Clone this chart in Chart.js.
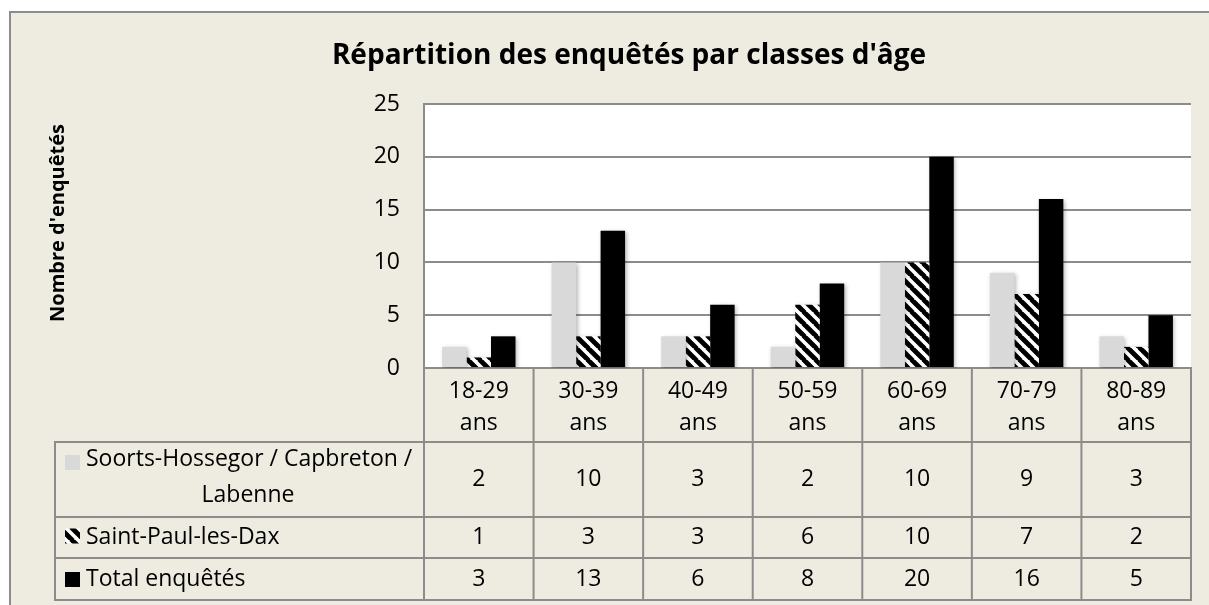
<!DOCTYPE html>
<html>
<head>
<meta charset="utf-8">
<script src="https://cdn.jsdelivr.net/npm/chart.js@4.4.1/dist/chart.umd.min.js"></script>
<style>
  html, body { margin: 0; padding: 0; background: #fff; }
  #wrap { width: 1209px; height: 605px; position: relative; }
</style>
</head>
<body>
<div id="wrap"><canvas id="ageChart"></canvas></div>
<script>
const chartTitle = "Répartition des enquêtés par classes d'âge";
const yAxisTitle = "Nombre d'enquêtés";

const ageClasses = [
  ['18-29', 'ans'], ['30-39', 'ans'], ['40-49', 'ans'], ['50-59', 'ans'],
  ['60-69', 'ans'], ['70-79', 'ans'], ['80-89', 'ans']
];
const seriesNames = ['Soorts-Hossegor / Capbreton / Labenne', 'Saint-Paul-les-Dax', 'Total enquêtés'];
const seriesNameLines = [['Soorts-Hossegor / Capbreton /', 'Labenne'], ['Saint-Paul-les-Dax'], ['Total enquêtés']];

const soortsValues = [2, 10, 3, 2, 10, 9, 3];
const saintPaulValues = [1, 3, 3, 6, 10, 7, 2];
const totalValues = [3, 13, 6, 8, 20, 16, 5];

const yMin = 0, yMax = 25, yStep = 5;

const FONT = "'Open Sans', sans-serif";
const LINE = '#8c8c8c';
const CREAM = '#eeece1';

function makeHatch() {
  const p = 12;
  const c = document.createElement('canvas');
  c.width = p; c.height = p;
  const g = c.getContext('2d');
  g.fillStyle = '#fff';
  g.fillRect(0, 0, p, p);
  g.strokeStyle = '#000';
  g.lineWidth = 4.8;
  g.beginPath();
  for (let k = -1; k <= 1; k++) {
    g.moveTo(k * p - 1, -1);
    g.lineTo(k * p + p + 1, p + 1);
  }
  g.stroke();
  return g.createPattern(c, 'repeat');
}
const hatch = makeHatch();
const seriesFills = ['#d9d9d9', hatch, '#000000'];

const frameAndTable = {
  id: 'frameAndTable',
  beforeDraw(chart) {
    const { ctx, chartArea: a } = chart;
    ctx.save();
    ctx.fillStyle = '#fff';
    ctx.fillRect(0, 0, chart.width, chart.height);
    ctx.fillStyle = CREAM;
    ctx.fillRect(10, 12, chart.width, chart.height);
    ctx.strokeStyle = LINE;
    ctx.lineWidth = 2;
    ctx.beginPath();
    ctx.moveTo(10, chart.height + 2);
    ctx.lineTo(10, 12);
    ctx.lineTo(chart.width + 2, 12);
    ctx.stroke();
    ctx.fillStyle = '#fff';
    ctx.fillRect(a.left, a.top, a.width, a.height);

    ctx.fillStyle = '#000';
    ctx.textAlign = 'center';
    ctx.textBaseline = 'middle';
    ctx.font = `bold 28px ${FONT}`;
    ctx.fillText(chartTitle, 629, 56);

    ctx.translate(58, 223);
    ctx.rotate(-Math.PI / 2);
    ctx.font = `bold 20px ${FONT}`;
    ctx.fillText(yAxisTitle, 0, 0);
    ctx.restore();
  },
  beforeDatasetsDraw(chart) {
    const ctx = chart.ctx;
    ctx.save();
    ctx.shadowColor = 'rgba(0,0,0,0.28)';
    ctx.shadowBlur = 4;
    ctx.shadowOffsetX = 1.5;
    ctx.shadowOffsetY = 1.5;
  },
  afterDatasetsDraw(chart) {
    chart.ctx.restore();
  },
  afterDraw(chart) {
    const { ctx, chartArea: a } = chart;
    const x = chart.scales.x;
    const n = ageClasses.length;
    const step = x.width / n;
    const top = a.bottom;
    const rowTops = [top + 74, top + 149, top + 190, top + 232];
    const left = 55;
    const right = x.right;

    ctx.save();
    ctx.strokeStyle = LINE;
    ctx.lineWidth = 2;
    ctx.beginPath();
    for (let i = 0; i <= n; i++) {
      const xx = x.left + i * step;
      ctx.moveTo(xx, top);
      ctx.lineTo(xx, rowTops[3]);
    }
    ctx.moveTo(left, rowTops[0]);
    ctx.lineTo(left, rowTops[3]);
    rowTops.forEach(y => { ctx.moveTo(left - 1, y); ctx.lineTo(right + 1, y); });
    ctx.stroke();

    ctx.fillStyle = '#000';
    ctx.font = `23px ${FONT}`;
    ctx.textAlign = 'center';
    ctx.textBaseline = 'middle';
    chart.data.datasets.forEach((ds, r) => {
      const cy = (rowTops[r] + rowTops[r + 1]) / 2;
      ds.data.forEach((v, i) => ctx.fillText(String(v), x.getPixelForValue(i), cy));
    });

    // series names with markers
    const lineY = [[459, 495], [537.5], [579]];
    const markerTop = [455, 528.5, 572];
    seriesNameLines.forEach((lines, r) => {
      ctx.fillStyle = seriesFills[r];
      ctx.fillRect(65, markerTop[r], 15, 15);
      ctx.fillStyle = '#000';
      ctx.textAlign = 'left';
      ctx.fillText(lines[0], 86, lineY[r][0]);
      if (lines[1]) {
        ctx.textAlign = 'center';
        ctx.fillText(lines[1], 248, lineY[r][1]);
      }
    });
    ctx.restore();
  }
};

new Chart(document.getElementById('ageChart'), {
  type: 'bar',
  data: {
    labels: ageClasses,
    datasets: [
      { label: seriesNames[0], data: soortsValues, backgroundColor: seriesFills[0] },
      { label: seriesNames[1], data: saintPaulValues, backgroundColor: seriesFills[1] },
      { label: seriesNames[2], data: totalValues, backgroundColor: seriesFills[2] }
    ]
  },
  options: {
    responsive: true,
    maintainAspectRatio: false,
    animation: false,
    datasets: { bar: { categoryPercentage: 0.67, barPercentage: 1 } },
    layout: { padding: { top: 104, left: 40, right: 18, bottom: 0 } },
    plugins: { legend: { display: false }, title: { display: false }, tooltip: { enabled: false } },
    scales: {
      x: {
        grid: { display: false },
        border: { display: true, color: LINE, width: 2 },
        ticks: { color: '#000', padding: -1, font: { family: FONT, size: 23, lineHeight: '32px' } },
        afterFit(scale) { scale.height = 237; }
      },
      y: {
        min: yMin,
        max: yMax,
        grid: { color: LINE, lineWidth: 2, drawTicks: false },
        border: { display: true, color: LINE, width: 2 },
        ticks: { stepSize: yStep, color: '#000', padding: 24, font: { family: FONT, size: 23 } },
        afterFit(scale) { scale.width = 384; }
      }
    }
  },
  plugins: [frameAndTable]
});
</script>
</body>
</html>
